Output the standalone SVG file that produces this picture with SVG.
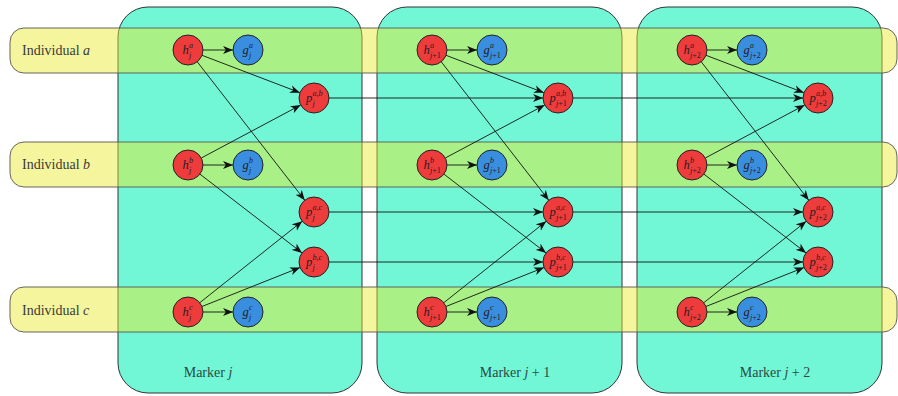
<svg xmlns="http://www.w3.org/2000/svg" width="898" height="396" viewBox="0 0 898 396">
<style>
.box{fill:#72f7d6;stroke:#333;stroke-width:1}
.band{fill:#e8ea2c;fill-opacity:0.47;stroke:#555;stroke-width:0.9}
.h{fill:#ee3b3b;stroke:#222;stroke-width:1}
.g{fill:#3a8ee0;stroke:#222;stroke-width:1}
.n{font-family:"Liberation Serif","DejaVu Serif",serif;font-style:italic;font-size:12.5px;fill:#222}
.s{font-size:8px}
.u{font-style:normal}
.lab{font-family:"Liberation Serif","DejaVu Serif",serif;font-size:14px;fill:#3a3a3a}
.lab tspan.i{font-style:italic}
.mk{font-family:"Liberation Serif","DejaVu Serif",serif;font-size:14px;fill:#2a4a44;text-anchor:middle}
.mk tspan.i{font-style:italic}
#connectors path{fill:none;stroke:#111;stroke-width:0.9;marker-end:url(#ah)}
</style>
<defs>
<marker id="ah" markerUnits="userSpaceOnUse" markerWidth="11" markerHeight="9" refX="10" refY="4.5" orient="auto">
<path d="M0,0.5 L10,4.5 L0,8.5 L2.8,4.5 z" fill="#111"/>
</marker>
</defs>

<g id="markers">
<g id="marker_j"><rect class="box" x="118" y="7" width="244" height="386" rx="30"/><text class="mk" x="208" y="377">Marker <tspan class="i">j</tspan></text></g>
<g id="marker_j1"><rect class="box" x="377" y="7" width="245" height="386" rx="30"/><text class="mk" x="515" y="377">Marker <tspan class="i">j</tspan> + 1</text></g>
<g id="marker_j2"><rect class="box" x="637" y="7" width="245" height="386" rx="30"/><text class="mk" x="775" y="377">Marker <tspan class="i">j</tspan> + 2</text></g>
</g>

<g id="individuals">
<g id="ind_a"><rect class="band" x="10" y="28" width="887" height="45" rx="14"/><text class="lab" x="22" y="55">Individual <tspan class="i">a</tspan></text></g>
<g id="ind_b"><rect class="band" x="10" y="142" width="887" height="45" rx="14"/><text class="lab" x="22" y="169">Individual <tspan class="i">b</tspan></text></g>
<g id="ind_c"><rect class="band" x="10" y="287" width="887" height="45" rx="14"/><text class="lab" x="22" y="315">Individual <tspan class="i">c</tspan></text></g>
</g>

<g id="connectors">
<path d="M203,50 L233,50"/>
<path d="M202.03,55.3 L299.97,92.7"/>
<path d="M197.25,61.8 L304.75,200.19"/>
<path d="M201.27,158 L300.73,105"/>
<path d="M203,165 L233,165"/>
<path d="M199.92,174.1 L302.08,252.9"/>
<path d="M199.78,302.72 L302.22,221.28"/>
<path d="M201.96,306.51 L300.04,267.49"/>
<path d="M203,312 L233,312"/>

<path d="M447,50 L477,50"/>
<path d="M446.03,55.3 L543.97,92.7"/>
<path d="M441.25,61.8 L548.75,200.19"/>
<path d="M445.27,158 L544.73,105"/>
<path d="M447,165 L477,165"/>
<path d="M443.92,174.1 L546.08,252.9"/>
<path d="M443.78,302.72 L546.22,221.28"/>
<path d="M445.96,306.51 L544.04,267.49"/>
<path d="M447,312 L477,312"/>

<path d="M707,50 L737,50"/>
<path d="M706.03,55.3 L803.97,92.7"/>
<path d="M701.25,61.8 L808.75,200.19"/>
<path d="M705.27,158 L804.73,105"/>
<path d="M707,165 L737,165"/>
<path d="M703.92,174.1 L806.08,252.9"/>
<path d="M703.78,302.72 L806.22,221.28"/>
<path d="M705.96,306.51 L804.04,267.49"/>
<path d="M707,312 L737,312"/>

<path d="M329,98 L543,98"/>
<path d="M573,98 L803,98"/>
<path d="M329,212 L543,212"/>
<path d="M573,212 L803,212"/>
<path d="M329,262 L543,262"/>
<path d="M573,262 L803,262"/>
</g>

<g id="nodes">
<g id="h_a_j"><circle class="h" cx="188" cy="50" r="15"/><text class="n"><tspan x="182.5" y="54">h</tspan><tspan class="s" x="189" y="48">a</tspan><tspan class="s" x="189" y="57.5">j</tspan></text></g>
<g id="g_a_j"><circle class="g" cx="248" cy="50" r="15"/><text class="n"><tspan x="242.5" y="54">g</tspan><tspan class="s" x="249" y="48">a</tspan><tspan class="s" x="249" y="57.5">j</tspan></text></g>
<g id="h_b_j"><circle class="h" cx="188" cy="165" r="15"/><text class="n"><tspan x="182.5" y="169">h</tspan><tspan class="s" x="189" y="163">b</tspan><tspan class="s" x="189" y="172.5">j</tspan></text></g>
<g id="g_b_j"><circle class="g" cx="248" cy="165" r="15"/><text class="n"><tspan x="242.5" y="169">g</tspan><tspan class="s" x="249" y="163">b</tspan><tspan class="s" x="249" y="172.5">j</tspan></text></g>
<g id="h_c_j"><circle class="h" cx="188" cy="312" r="15"/><text class="n"><tspan x="182.5" y="316">h</tspan><tspan class="s" x="189" y="310">c</tspan><tspan class="s" x="189" y="319.5">j</tspan></text></g>
<g id="g_c_j"><circle class="g" cx="248" cy="312" r="15"/><text class="n"><tspan x="242.5" y="316">g</tspan><tspan class="s" x="249" y="310">c</tspan><tspan class="s" x="249" y="319.5">j</tspan></text></g>
<g id="p_ab_j"><circle class="h" cx="314" cy="98" r="15"/><text class="n"><tspan x="306" y="102">p</tspan><tspan class="s" x="312.5" y="96">a,b</tspan><tspan class="s" x="312.5" y="105.5">j</tspan></text></g>
<g id="p_ac_j"><circle class="h" cx="314" cy="212" r="15"/><text class="n"><tspan x="306" y="216">p</tspan><tspan class="s" x="312.5" y="210">a,c</tspan><tspan class="s" x="312.5" y="219.5">j</tspan></text></g>
<g id="p_bc_j"><circle class="h" cx="314" cy="262" r="15"/><text class="n"><tspan x="306" y="266">p</tspan><tspan class="s" x="312.5" y="260">b,c</tspan><tspan class="s" x="312.5" y="269.5">j</tspan></text></g>

<g id="h_a_j1"><circle class="h" cx="432" cy="50" r="15"/><text class="n"><tspan x="423.5" y="54">h</tspan><tspan class="s" x="430" y="48">a</tspan><tspan class="s" x="430" y="57.5">j<tspan class="u">+1</tspan></tspan></text></g>
<g id="g_a_j1"><circle class="g" cx="492" cy="50" r="15"/><text class="n"><tspan x="483.5" y="54">g</tspan><tspan class="s" x="490" y="48">a</tspan><tspan class="s" x="490" y="57.5">j<tspan class="u">+1</tspan></tspan></text></g>
<g id="h_b_j1"><circle class="h" cx="432" cy="165" r="15"/><text class="n"><tspan x="423.5" y="169">h</tspan><tspan class="s" x="430" y="163">b</tspan><tspan class="s" x="430" y="172.5">j<tspan class="u">+1</tspan></tspan></text></g>
<g id="g_b_j1"><circle class="g" cx="492" cy="165" r="15"/><text class="n"><tspan x="483.5" y="169">g</tspan><tspan class="s" x="490" y="163">b</tspan><tspan class="s" x="490" y="172.5">j<tspan class="u">+1</tspan></tspan></text></g>
<g id="h_c_j1"><circle class="h" cx="432" cy="312" r="15"/><text class="n"><tspan x="423.5" y="316">h</tspan><tspan class="s" x="430" y="310">c</tspan><tspan class="s" x="430" y="319.5">j<tspan class="u">+1</tspan></tspan></text></g>
<g id="g_c_j1"><circle class="g" cx="492" cy="312" r="15"/><text class="n"><tspan x="483.5" y="316">g</tspan><tspan class="s" x="490" y="310">c</tspan><tspan class="s" x="490" y="319.5">j<tspan class="u">+1</tspan></tspan></text></g>
<g id="p_ab_j1"><circle class="h" cx="558" cy="98" r="15"/><text class="n"><tspan x="549.5" y="102">p</tspan><tspan class="s" x="556" y="96">a,b</tspan><tspan class="s" x="556" y="105.5">j<tspan class="u">+1</tspan></tspan></text></g>
<g id="p_ac_j1"><circle class="h" cx="558" cy="212" r="15"/><text class="n"><tspan x="549.5" y="216">p</tspan><tspan class="s" x="556" y="210">a,c</tspan><tspan class="s" x="556" y="219.5">j<tspan class="u">+1</tspan></tspan></text></g>
<g id="p_bc_j1"><circle class="h" cx="558" cy="262" r="15"/><text class="n"><tspan x="549.5" y="266">p</tspan><tspan class="s" x="556" y="260">b,c</tspan><tspan class="s" x="556" y="269.5">j<tspan class="u">+1</tspan></tspan></text></g>

<g id="h_a_j2"><circle class="h" cx="692" cy="50" r="15"/><text class="n"><tspan x="683.5" y="54">h</tspan><tspan class="s" x="690" y="48">a</tspan><tspan class="s" x="690" y="57.5">j<tspan class="u">+2</tspan></tspan></text></g>
<g id="g_a_j2"><circle class="g" cx="752" cy="50" r="15"/><text class="n"><tspan x="743.5" y="54">g</tspan><tspan class="s" x="750" y="48">a</tspan><tspan class="s" x="750" y="57.5">j<tspan class="u">+2</tspan></tspan></text></g>
<g id="h_b_j2"><circle class="h" cx="692" cy="165" r="15"/><text class="n"><tspan x="683.5" y="169">h</tspan><tspan class="s" x="690" y="163">b</tspan><tspan class="s" x="690" y="172.5">j<tspan class="u">+2</tspan></tspan></text></g>
<g id="g_b_j2"><circle class="g" cx="752" cy="165" r="15"/><text class="n"><tspan x="743.5" y="169">g</tspan><tspan class="s" x="750" y="163">b</tspan><tspan class="s" x="750" y="172.5">j<tspan class="u">+2</tspan></tspan></text></g>
<g id="h_c_j2"><circle class="h" cx="692" cy="312" r="15"/><text class="n"><tspan x="683.5" y="316">h</tspan><tspan class="s" x="690" y="310">c</tspan><tspan class="s" x="690" y="319.5">j<tspan class="u">+2</tspan></tspan></text></g>
<g id="g_c_j2"><circle class="g" cx="752" cy="312" r="15"/><text class="n"><tspan x="743.5" y="316">g</tspan><tspan class="s" x="750" y="310">c</tspan><tspan class="s" x="750" y="319.5">j<tspan class="u">+2</tspan></tspan></text></g>
<g id="p_ab_j2"><circle class="h" cx="818" cy="98" r="15"/><text class="n"><tspan x="809.5" y="102">p</tspan><tspan class="s" x="816" y="96">a,b</tspan><tspan class="s" x="816" y="105.5">j<tspan class="u">+2</tspan></tspan></text></g>
<g id="p_ac_j2"><circle class="h" cx="818" cy="212" r="15"/><text class="n"><tspan x="809.5" y="216">p</tspan><tspan class="s" x="816" y="210">a,c</tspan><tspan class="s" x="816" y="219.5">j<tspan class="u">+2</tspan></tspan></text></g>
<g id="p_bc_j2"><circle class="h" cx="818" cy="262" r="15"/><text class="n"><tspan x="809.5" y="266">p</tspan><tspan class="s" x="816" y="260">b,c</tspan><tspan class="s" x="816" y="269.5">j<tspan class="u">+2</tspan></tspan></text></g>
</g>
</svg>
